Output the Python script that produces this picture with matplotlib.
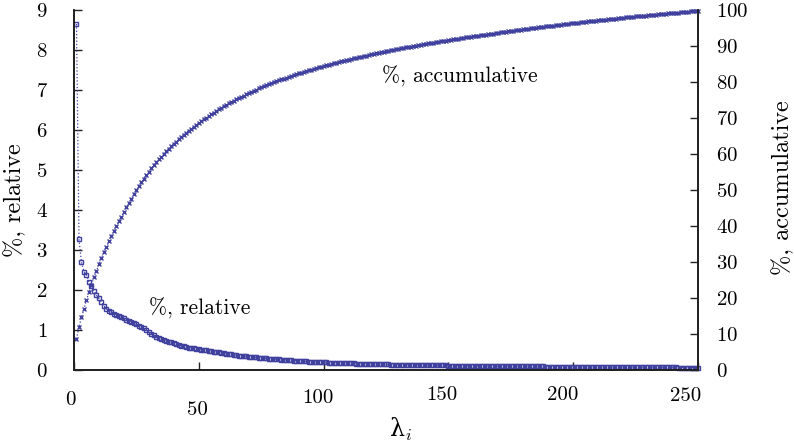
import numpy as np
import matplotlib
matplotlib.use("Agg")
import matplotlib.pyplot as plt

plt.rcParams['font.family'] = ['cmr10', 'DejaVu Serif']
plt.rcParams['mathtext.fontset'] = 'cm'
plt.rcParams['axes.formatter.use_mathtext'] = True

# porcentaje relativo de cada autovalor lambda_i (i = 1..250)
relativo = [
    8.65, 3.27, 2.69, 2.46, 2.38, 2.20, 2.10, 1.98, 1.87, 1.79,
    1.70, 1.61, 1.53, 1.48, 1.44, 1.41, 1.38, 1.35, 1.32, 1.29,
    1.26, 1.23, 1.20, 1.17, 1.14, 1.11, 1.08, 1.04, 1.00, 0.96,
    0.91, 0.87, 0.83, 0.80, 0.77, 0.75, 0.73, 0.71, 0.69, 0.67,
    0.65, 0.63, 0.61, 0.59, 0.58, 0.56, 0.55, 0.54, 0.53, 0.52,
    0.51, 0.50, 0.49, 0.48, 0.47, 0.46, 0.45, 0.44, 0.43, 0.42,
    0.41, 0.40, 0.39, 0.38, 0.37, 0.36, 0.355, 0.35, 0.34, 0.335,
    0.33, 0.32, 0.315, 0.31, 0.30, 0.295, 0.29, 0.285, 0.28, 0.275,
    0.27, 0.265, 0.26, 0.255, 0.25, 0.245, 0.24, 0.235, 0.23, 0.226,
    0.222, 0.218, 0.214, 0.210, 0.207, 0.204, 0.201, 0.198, 0.195, 0.192,
    0.189, 0.186, 0.183, 0.180, 0.178, 0.176, 0.174, 0.172, 0.170, 0.168,
    0.166, 0.164, 0.162, 0.160, 0.158, 0.156, 0.154, 0.152, 0.150, 0.148,
    0.146, 0.144, 0.142, 0.141, 0.140, 0.138, 0.137, 0.136, 0.134, 0.133,
    0.132, 0.131, 0.130, 0.128, 0.127, 0.126, 0.125, 0.124, 0.123, 0.122,
    0.121, 0.120, 0.119, 0.118, 0.117, 0.116, 0.115, 0.114, 0.113, 0.112,
    0.111, 0.110, 0.109, 0.108, 0.107, 0.106, 0.105, 0.104, 0.103, 0.102,
    0.101, 0.100, 0.099, 0.098, 0.097, 0.096, 0.095, 0.094, 0.093, 0.092,
    0.101, 0.100, 0.099, 0.098, 0.097, 0.096, 0.095, 0.095, 0.094, 0.093,
    0.092, 0.092, 0.091, 0.090, 0.090, 0.089, 0.088, 0.088, 0.087, 0.086,
    0.086, 0.085, 0.085, 0.084, 0.083, 0.083, 0.082, 0.082, 0.081, 0.080,
    0.080, 0.079, 0.079, 0.078, 0.078, 0.077, 0.077, 0.076, 0.076, 0.075,
    0.075, 0.074, 0.074, 0.073, 0.073, 0.072, 0.072, 0.071, 0.071, 0.070,
    0.070, 0.070, 0.069, 0.069, 0.068, 0.068, 0.068, 0.067, 0.067, 0.066,
    0.066, 0.066, 0.065, 0.065, 0.065, 0.064, 0.064, 0.064, 0.063, 0.063,
    0.063, 0.062, 0.062, 0.062, 0.061, 0.061, 0.061, 0.060, 0.060, 0.060,
]
indice = np.arange(1, len(relativo) + 1)
acumulado = np.cumsum(relativo)

xticks = [0, 50, 100, 150, 200, 250]
yticks_izq = list(range(0, 10))
yticks_der = list(range(0, 101, 10))

# posiciones (px) de las etiquetas del eje x, que en el original estan desalineadas
pos_etiquetas_x = [(70, 400), (197, 410), (318, 398), (442, 395), (563, 395), (686, 396)]

color = '#40409f'
W, H = 794, 444

fig = plt.figure(figsize=(W / 100, H / 100), dpi=100)
ax = fig.add_axes([74 / W, 1 - 370 / H, (698 - 74) / W, (370 - 10) / H])
ax2 = ax.twinx()

# --- relativo: cuadrados + linea punteada ---
ax.plot(indice, relativo, color=color, linestyle=':', linewidth=0.9,
        marker='s', markersize=3.4, markerfacecolor='none',
        markeredgewidth=1.0, clip_on=False)
# --- acumulado: cruces + linea punteada ---
ax2.plot(indice, acumulado, color=color, linestyle=':', linewidth=0.9,
         marker='x', markersize=2.8, markeredgewidth=1.0, clip_on=False)

ax.set_xlim(0, 250)
ax.set_ylim(0, 9)
ax2.set_ylim(0, 100)

for a in (ax, ax2):
    a.spines['top'].set_visible(False)
    for s in ('left', 'right', 'bottom'):
        a.spines[s].set_linewidth(1.3)
        a.spines[s].set_color('#222222')

ax.set_xticks(xticks)
ax.set_xticklabels([])
ax.tick_params(axis='x', direction='in', length=6, width=1, color='#222222')
ax.set_yticks(yticks_izq)
ax.tick_params(axis='y', direction='in', length=6, width=1, color='#222222',
               labelsize=15, pad=19)
ax2.set_yticks(yticks_der)
ax2.tick_params(axis='y', direction='in', length=6, width=1, color='#222222',
                labelsize=15, pad=13)

for val, (px, py) in zip(xticks, pos_etiquetas_x):
    fig.text(px / W, 1 - py / H, str(val), ha='center', va='center', fontsize=15)

fig.text(15 / W, 1 - 200 / H, '%, relative', rotation=90, ha='center', va='center',
         fontsize=17.5)
fig.text(783 / W, 1 - 188 / H, '%, accumulative', rotation=90, ha='center',
         va='center', fontsize=17.5)
fig.text(400 / W, 1 - 429 / H, r'λ$_i$', ha='center', va='center', fontsize=17,
         family=['DejaVu Serif'])

fig.text(200 / W, 1 - 308 / H, '%, relative', ha='center', va='center', fontsize=15.5)
fig.text(460 / W, 1 - 76 / H, '%, accumulative', ha='center', va='center', fontsize=15.5)

fig.savefig('out.png', dpi=100)
